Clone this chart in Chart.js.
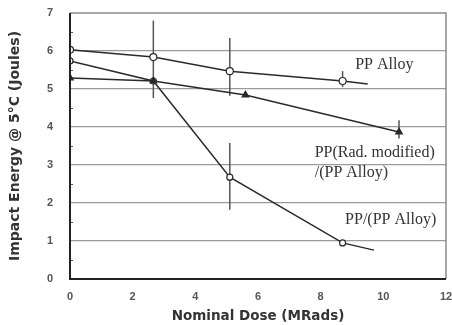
<!DOCTYPE html>
<html><head><meta charset="utf-8">
<script src="https://cdn.jsdelivr.net/npm/chart.js@4.4.1/dist/chart.umd.min.js"></script>
<style>html,body{margin:0;padding:0;background:#fff}</style>
</head><body>
<canvas id="c" width="452" height="325"></canvas>
<script>
// Data
const alloyX = [0, 2.66, 5.1, 8.7, 9.5];
const alloyY = [6.03, 5.84, 5.47, 5.21, 5.13];
const radX = [0, 2.66, 5.6, 10.5];
const radY = [5.29, 5.21, 4.84, 3.87];
const ppX = [0, 2.66, 5.1, 8.7, 9.7];
const ppY = [5.74, 5.21, 2.68, 0.95, 0.76];
// error bars: x, low, high
const errX = [0, 2.66, 5.1, 5.1, 8.7, 10.5];
const errLow = [5.15, 4.76, 4.82, 1.82, 5.05, 3.7];
const errHigh = [6.6, 6.8, 6.34, 3.58, 5.47, 4.18];
// annotation labels
const labelText = ["PP Alloy", "PP(Rad. modified)", "/(PP Alloy)", "PP/(PP Alloy)"];
const labelX = [9.1, 7.81, 7.81, 8.78];
const labelY = [5.63, 3.32, 2.79, 1.55];
const xTicks = [0, 2, 4, 6, 8, 10, 12];
const yTicks = [0, 1, 2, 3, 4, 5, 6, 7];

const toPts = (xs, ys) => xs.map((x, i) => ({x, y: ys[i]}));
const lineCol = '#2a2a2a';

const extras = {
  id: 'extras',
  beforeDatasetsDraw(chart) {
    const {ctx, chartArea: a, scales: {x, y}} = chart;
    ctx.save();
    ctx.strokeStyle = '#8a8a8a';
    ctx.lineWidth = 1.5;
    ctx.beginPath();
    ctx.moveTo(a.left, a.top); ctx.lineTo(a.right, a.top); ctx.lineTo(a.right, a.bottom);
    ctx.stroke();
    // minor ticks on y axis
    ctx.strokeStyle = '#555'; ctx.lineWidth = 1;
    for (let v = 0.5; v < 7; v += 1) {
      const py = Math.round(y.getPixelForValue(v)) + 0.5;
      ctx.beginPath(); ctx.moveTo(a.left, py); ctx.lineTo(a.left + 3, py); ctx.stroke();
    }
    // error bars
    ctx.strokeStyle = '#555'; ctx.lineWidth = 1.5;
    errX.forEach((ex, i) => {
      const px = x.getPixelForValue(ex);
      ctx.beginPath();
      ctx.moveTo(px, y.getPixelForValue(errLow[i]));
      ctx.lineTo(px, y.getPixelForValue(errHigh[i]));
      ctx.stroke();
    });
    ctx.restore();
  },
  afterDraw(chart) {
    const {ctx, chartArea: a, scales: {x, y}} = chart;
    ctx.save();
    ctx.fillStyle = '#333';
    ctx.font = '16px "Liberation Serif", serif';
    ctx.textBaseline = 'middle';
    labelText.forEach((t, i) => {
      ctx.fillText(t, x.getPixelForValue(labelX[i]), y.getPixelForValue(labelY[i]));
    });
    // axis lines
    ctx.strokeStyle = '#222'; ctx.lineWidth = 2;
    ctx.beginPath();
    ctx.moveTo(a.left, a.top); ctx.lineTo(a.left, a.bottom); ctx.lineTo(a.right, a.bottom);
    ctx.stroke();
    ctx.restore();
  }
};

new Chart(document.getElementById('c'), {
  type: 'scatter',
  data: {
    datasets: [
      {data: toPts(alloyX, alloyY), showLine: true, borderColor: lineCol, borderWidth: 1.5,
       pointStyle: 'circle', pointRadius: [3.5, 3.5, 3.5, 3.5, 0], pointBackgroundColor: '#fff',
       pointBorderColor: lineCol, pointBorderWidth: 1.2},
      {data: toPts(radX, radY), showLine: true, borderColor: lineCol, borderWidth: 1.5,
       pointStyle: 'triangle', pointRadius: 3.5, pointBackgroundColor: lineCol,
       pointBorderColor: lineCol},
      {data: toPts(ppX, ppY), showLine: true, borderColor: lineCol, borderWidth: 1.5,
       pointStyle: 'circle', pointRadius: [3, 3, 3, 3, 0], pointBackgroundColor: '#fff',
       pointBorderColor: lineCol, pointBorderWidth: 1.2}
    ]
  },
  options: {
    responsive: false, animation: false,
    layout: {padding: {top: 13, right: 6, left: 0, bottom: 0}},
    plugins: {legend: {display: false}, tooltip: {enabled: false}},
    scales: {
      x: {
        type: 'linear', min: 0, max: 12,
        afterBuildTicks: s => { s.ticks = xTicks.map(v => ({value: v})); },
        afterFit: s => { s.height = 46; s.paddingLeft = 0; s.paddingRight = 0; },
        grid: {display: false, drawTicks: false},
        border: {display: false},
        ticks: {padding: 11, color: '#555', font: {family: 'Arial, "Liberation Sans"', size: 11, weight: 'bold'}},
        title: {display: true, text: 'Nominal Dose (MRads)', color: '#333', padding: {top: 0, bottom: 0},
                font: {family: '"DejaVu Sans"', size: 13.5, weight: 'bold'}}
      },
      y: {
        type: 'linear', min: 0, max: 7,
        afterBuildTicks: s => { s.ticks = yTicks.map(v => ({value: v})); },
        afterFit: s => { s.width = 70; s.paddingTop = 0; s.paddingBottom = 0; },
        grid: {drawTicks: false, color: c => (c.tick.value > 0 && c.tick.value < 7) ? '#9a9a9a' : 'rgba(0,0,0,0)', lineWidth: 1.2},
        border: {display: false},
        ticks: {padding: 17, color: '#555', font: {family: 'Arial, "Liberation Sans"', size: 11, weight: 'bold'}},
        title: {display: true, text: 'Impact Energy @ 5°C (Joules)', color: '#333', padding: {top: 7, bottom: 0},
                font: {family: '"DejaVu Sans"', size: 14, weight: 'bold'}}
      }
    }
  },
  plugins: [extras]
});
</script>
</body></html>
